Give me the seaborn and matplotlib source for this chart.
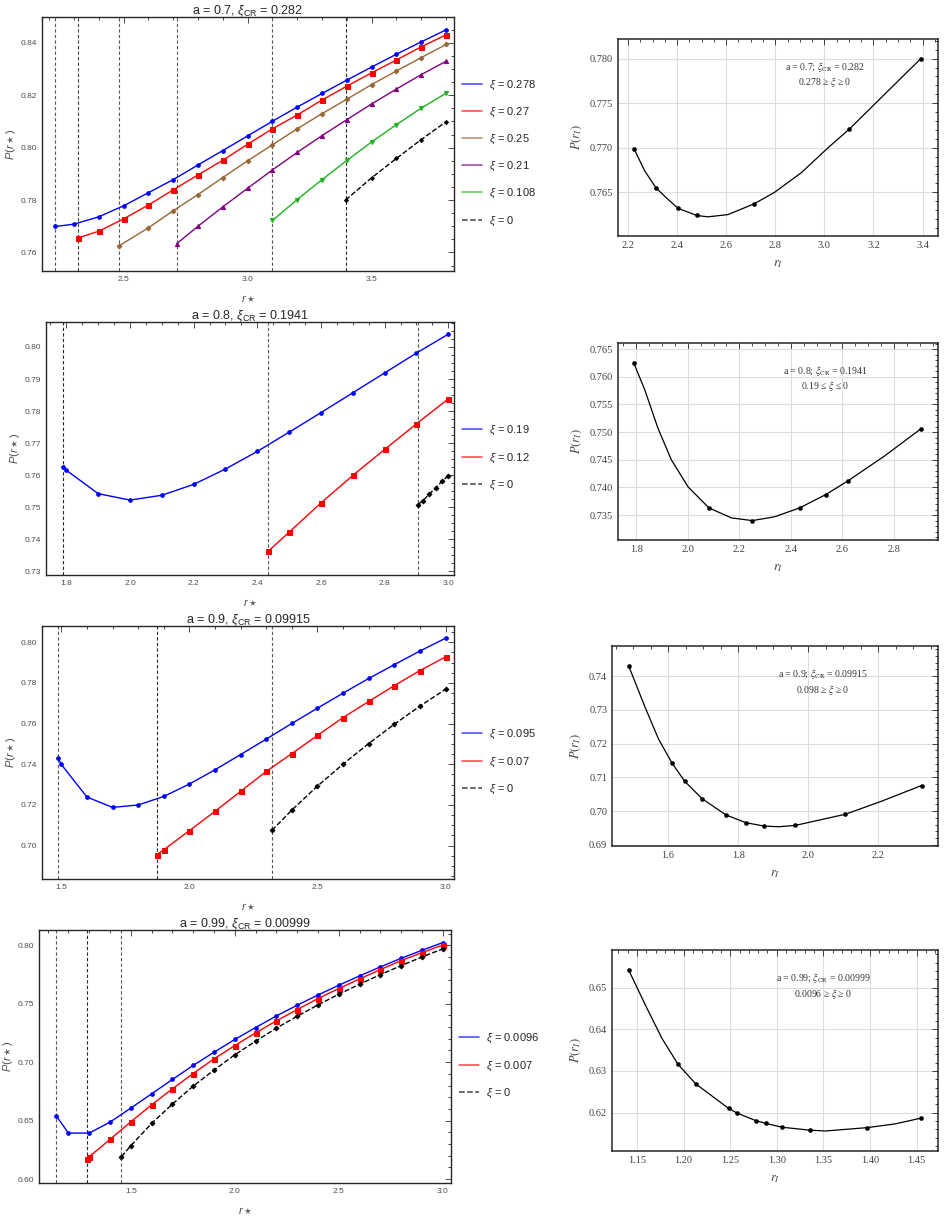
import matplotlib
matplotlib.use('Agg')
import matplotlib.pyplot as plt
from matplotlib.lines import Line2D
from matplotlib.ticker import MultipleLocator, FormatStrFormatter
import seaborn as sns

# ---------------- a = 0.7 ----------------
a07_b_x = [2.225, 2.3, 2.4, 2.5, 2.6, 2.7, 2.8, 2.9, 3.0, 3.1, 3.2, 3.3, 3.4, 3.5, 3.6, 3.7, 3.8]
a07_b_y = [0.7699, 0.7708, 0.7736, 0.7778, 0.7828, 0.7878, 0.7934, 0.7989, 0.8045, 0.8101,
           0.8155, 0.8207, 0.8258, 0.8308, 0.8357, 0.8404, 0.8450]
a07_r_x = [2.315, 2.4, 2.5, 2.6, 2.7, 2.8, 2.9, 3.0, 3.1, 3.2, 3.3, 3.4, 3.5, 3.6, 3.7, 3.8]
a07_r_y = [0.7655, 0.7681, 0.7728, 0.7781, 0.7839, 0.7896, 0.7952, 0.8013, 0.8072, 0.8125,
           0.8182, 0.8235, 0.8286, 0.8335, 0.8385, 0.8431]
a07_br_x = [2.48, 2.6, 2.7, 2.8, 2.9, 3.0, 3.1, 3.2, 3.3, 3.4, 3.5, 3.6, 3.7, 3.8]
a07_br_y = [0.7624, 0.7694, 0.7759, 0.7821, 0.7886, 0.7950, 0.8011, 0.8072, 0.8130, 0.8185,
            0.8241, 0.8293, 0.8344, 0.8394]
a07_pu_x = [2.715, 2.8, 2.9, 3.0, 3.1, 3.2, 3.3, 3.4, 3.5, 3.6, 3.7, 3.8]
a07_pu_y = [0.7634, 0.7700, 0.7774, 0.7845, 0.7915, 0.7982, 0.8046, 0.8107, 0.8167, 0.8224,
            0.8279, 0.8330]
a07_g_x = [3.1, 3.2, 3.3, 3.4, 3.5, 3.6, 3.7, 3.8]
a07_g_y = [0.7722, 0.7802, 0.7878, 0.7951, 0.8022, 0.8088, 0.8151, 0.8208]
a07_k_x = [3.395, 3.5, 3.6, 3.7, 3.8]
a07_k_y = [0.7800, 0.7885, 0.7959, 0.8031, 0.8099]
a07_vlines = [2.225, 2.315, 2.48, 2.715, 3.1, 3.395]
a07_xi = ['0.278', '0.27', '0.25', '0.21', '0.108', '0']

a07_rI_curve_x = [2.224, 2.268, 2.314, 2.363, 2.404, 2.48, 2.526, 2.607, 2.713, 2.797, 2.906,
                  3.015, 3.102, 3.205, 3.393]
a07_rI_curve_y = [0.7699, 0.7674, 0.7655, 0.7642, 0.7632, 0.7624, 0.76225, 0.7625, 0.7637,
                  0.7650, 0.7672, 0.7700, 0.7721, 0.7749, 0.7800]
a07_rI_x = [2.224, 2.314, 2.404, 2.48, 2.713, 3.102, 3.393]
a07_rI_y = [0.7699, 0.7655, 0.7632, 0.7624, 0.7637, 0.7721, 0.7800]

# ---------------- a = 0.8 ----------------
a08_b_x = [1.79, 1.8, 1.9, 2.0, 2.1, 2.2, 2.3, 2.4, 2.5, 2.6, 2.7, 2.8, 2.9, 3.0]
a08_b_y = [0.7626, 0.7615, 0.7542, 0.7522, 0.7537, 0.7571, 0.7619, 0.7674, 0.7734, 0.7795,
           0.7857, 0.7919, 0.7981, 0.8040]
a08_r_x = [2.434, 2.5, 2.6, 2.7, 2.8, 2.9, 3.0]
a08_r_y = [0.7362, 0.7422, 0.7513, 0.7599, 0.7680, 0.7760, 0.7838]
a08_k_x = [2.905, 2.92, 2.94, 2.96, 2.98, 3.0]
a08_k_y = [0.7508, 0.7520, 0.7540, 0.7560, 0.7580, 0.7598]
a08_vlines = [1.79, 2.434, 2.905]
a08_xi = ['0.19', '0.12', '0']

a08_rI_curve_x = [1.79, 1.8325, 1.884, 1.936, 2.001, 2.082, 2.169, 2.25, 2.337, 2.434, 2.535,
                  2.622, 2.764, 2.905]
a08_rI_curve_y = [0.7625, 0.7577, 0.7507, 0.7450, 0.7401, 0.7363, 0.7345, 0.7340, 0.7347,
                  0.7363, 0.7387, 0.7412, 0.7457, 0.7506]
a08_rI_x = [1.79, 2.082, 2.25, 2.434, 2.535, 2.622, 2.905]
a08_rI_y = [0.7625, 0.7363, 0.7340, 0.7363, 0.7387, 0.7412, 0.7506]

# ---------------- a = 0.9 ----------------
a09_b_x = [1.488, 1.5, 1.6, 1.7, 1.8, 1.9, 2.0, 2.1, 2.2, 2.3, 2.4, 2.5, 2.6, 2.7, 2.8, 2.9, 3.0]
a09_b_y = [0.7430, 0.7399, 0.7239, 0.7188, 0.7200, 0.7242, 0.7303, 0.7373, 0.7448, 0.7524,
           0.7601, 0.7676, 0.7750, 0.7822, 0.7890, 0.7957, 0.8020]
a09_r_x = [1.873, 1.9, 2.0, 2.1, 2.2, 2.3, 2.4, 2.5, 2.6, 2.7, 2.8, 2.9, 3.0]
a09_r_y = [0.6956, 0.6980, 0.7074, 0.7169, 0.7267, 0.7365, 0.7453, 0.7542, 0.7630, 0.7709,
           0.7787, 0.7861, 0.7928]
a09_k_x = [2.322, 2.4, 2.5, 2.6, 2.7, 2.8, 2.9, 3.0]
a09_k_y = [0.7075, 0.7175, 0.7293, 0.7401, 0.7502, 0.7597, 0.7686, 0.7769]
a09_vlines = [1.488, 1.873, 2.322]
a09_xi = ['0.095', '0.07', '0']

a09_rI_curve_x = [1.4876, 1.535, 1.573, 1.611, 1.647, 1.697, 1.765, 1.822, 1.874, 1.916, 1.963,
                  2.106, 2.210, 2.323]
a09_rI_curve_y = [0.7430, 0.7306, 0.7213, 0.7143, 0.7089, 0.7037, 0.6989, 0.6966, 0.6956,
                  0.6954, 0.6958, 0.6991, 0.7030, 0.7076]
a09_rI_x = [1.4876, 1.611, 1.647, 1.697, 1.765, 1.822, 1.874, 1.963, 2.106, 2.323]
a09_rI_y = [0.7430, 0.7143, 0.7089, 0.7037, 0.6989, 0.6966, 0.6956, 0.6958, 0.6991, 0.7076]

# ---------------- a = 0.99 ----------------
a099_b_x = [1.141, 1.2, 1.3, 1.4, 1.5, 1.6, 1.7, 1.8, 1.9, 2.0, 2.1, 2.2, 2.3, 2.4, 2.5, 2.6,
            2.7, 2.8, 2.9, 3.0]
a099_b_y = [0.6541, 0.6393, 0.6393, 0.6487, 0.6607, 0.6729, 0.6852, 0.6972, 0.7085, 0.7194,
            0.7296, 0.7396, 0.7487, 0.7575, 0.7658, 0.7738, 0.7815, 0.7889, 0.7957, 0.8023]
a099_r_x = [1.288, 1.3, 1.4, 1.5, 1.6, 1.7, 1.8, 1.9, 2.0, 2.1, 2.2, 2.3, 2.4, 2.5, 2.6, 2.7,
            2.8, 2.9, 3.0]
a099_r_y = [0.6174, 0.6191, 0.6339, 0.6490, 0.6635, 0.6772, 0.6903, 0.7028, 0.7142, 0.7251,
            0.7353, 0.7450, 0.7544, 0.7630, 0.7712, 0.7792, 0.7869, 0.7937, 0.8003]
a099_k_x = [1.455, 1.5, 1.6, 1.7, 1.8, 1.9, 2.0, 2.1, 2.2, 2.3, 2.4, 2.5, 2.6, 2.7, 2.8, 2.9, 3.0]
a099_k_y = [0.6191, 0.6285, 0.6476, 0.6641, 0.6795, 0.6932, 0.7063, 0.7179, 0.7291, 0.7393,
            0.7490, 0.7581, 0.7667, 0.7749, 0.7826, 0.7900, 0.7969]
a099_vlines = [1.141, 1.288, 1.455]
a099_xi = ['0.0096', '0.007', '0']

a099_rI_curve_x = [1.1411, 1.159, 1.1768, 1.194, 1.213, 1.2484, 1.2573, 1.2773, 1.2884, 1.3056,
                   1.3353, 1.352, 1.3968, 1.427, 1.455]
a099_rI_curve_y = [0.6542, 0.6458, 0.6378, 0.6316, 0.6269, 0.6210, 0.6199, 0.6181, 0.6174,
                   0.6165, 0.6158, 0.6156, 0.6164, 0.6173, 0.6187]
a099_rI_x = [1.1411, 1.194, 1.213, 1.2484, 1.2573, 1.2773, 1.2884, 1.3056, 1.3353, 1.3968, 1.455]
a099_rI_y = [0.6542, 0.6316, 0.6269, 0.6210, 0.6199, 0.6181, 0.6174, 0.6165, 0.6158, 0.6164, 0.6187]

# --------------------------------------------------
sns.set_style('white')
plt.rcParams['font.family'] = ['Liberation Sans', 'DejaVu Sans']
plt.rcParams['mathtext.fontset'] = 'custom'
plt.rcParams['mathtext.rm'] = 'Liberation Sans'
plt.rcParams['mathtext.it'] = 'Liberation Sans:italic'
plt.rcParams['mathtext.bf'] = 'Liberation Sans:bold'

W, H = 944, 1217
fig = plt.figure(figsize=(W / 100, H / 100), dpi=100)


def px_axes(l, t, r, b):
    return fig.add_axes([l / W, 1 - b / H, (r - l) / W, (b - t) / H])


def frame_ticks(ax, lw):
    ax.tick_params(which='both', direction='in', top=True, right=True, width=0.6)
    ax.tick_params(which='major', length=4)
    ax.tick_params(which='minor', length=2)
    for s in ax.spines.values():
        s.set_linewidth(lw)
        s.set_color('0.15')


BLUE, RED, BROWN, PURPLE, GREEN = '#0000ff', '#ff0000', '#996633', '#800080', '#1fb21f'


def left_panel(rect, title, series, vlines, vcols, xlim, ylim, xt, ym, xf, yf, xmin, ymin, leg_y):
    ax = px_axes(*rect)
    for xv, vc in zip(vlines, vcols):
        ax.axvline(xv, color=vc, ls=(0, (3, 2)), lw=0.8, zorder=1)
    handles, labels = [], []
    for xs, ys, col, mk, ms, lab, ls in series:
        sns.lineplot(x=xs, y=ys, ax=ax, color=col, marker=mk, markersize=ms,
                     markeredgecolor=col, linewidth=1.0, linestyle=ls,
                     estimator=None, sort=False, zorder=3)
        handles.append(Line2D([], [], color=col, lw=1.1, ls=ls, alpha=0.75))
        labels.append(r'$\xi$ = ' + lab)
    ax.set_xlim(*xlim)
    ax.set_ylim(*ylim)
    ax.xaxis.set_major_locator(MultipleLocator(xt))
    ax.yaxis.set_major_locator(MultipleLocator(ym))
    ax.xaxis.set_minor_locator(MultipleLocator(xmin))
    ax.yaxis.set_minor_locator(MultipleLocator(ymin))
    ax.xaxis.set_major_formatter(FormatStrFormatter(xf))
    ax.yaxis.set_major_formatter(FormatStrFormatter(yf))
    ax.tick_params(labelsize=6, colors='0.2', labelcolor='0.3')
    frame_ticks(ax, 1.0)
    ax.set_title(title, fontsize=9, pad=2, color='0.15')
    ax.set_xlabel(r'$r\star$', fontsize=8, labelpad=8, color='0.3')
    ax.set_ylabel(r'$P(r\star)$', fontsize=8, labelpad=2, color='0.3')
    fig.legend(handles, labels, loc='center left',
               bbox_to_anchor=((rect[2] + 8) / W, 1 - leg_y / H),
               frameon=False, fontsize=8, handlelength=1.8, labelspacing=1.25,
               handletextpad=0.6, borderpad=0, borderaxespad=0)
    if ax.get_legend() is not None:
        ax.get_legend().remove()
    return ax


def right_panel(rect, cx, cy, mx, my, xlim, ylim, xt, ym, xf, yf, xmin, ymin, note):
    ax = px_axes(*rect)
    sns.lineplot(x=cx, y=cy, ax=ax, color='black', linewidth=0.9, estimator=None,
                 sort=False, zorder=3)
    sns.scatterplot(x=mx, y=my, ax=ax, color='black', s=9, edgecolor='black',
                    linewidth=0.3, zorder=4)
    ax.set_xlim(*xlim)
    ax.set_ylim(*ylim)
    ax.xaxis.set_major_locator(MultipleLocator(xt))
    ax.yaxis.set_major_locator(MultipleLocator(ym))
    ax.xaxis.set_minor_locator(MultipleLocator(xmin))
    ax.yaxis.set_minor_locator(MultipleLocator(ymin))
    ax.xaxis.set_major_formatter(FormatStrFormatter(xf))
    ax.yaxis.set_major_formatter(FormatStrFormatter(yf))
    ax.grid(True, which='major', color='#dddddd', lw=0.8)
    ax.set_axisbelow(True)
    ax.tick_params(labelsize=7.5, labelfontfamily='Liberation Serif', labelcolor='0.25')
    frame_ticks(ax, 1.1)
    ax.set_xlabel(r'$r_I$', fontsize=9, math_fontfamily='stix', labelpad=6, color='0.25')
    ax.set_ylabel(r'$P(r_I)$', fontsize=9, math_fontfamily='stix', labelpad=4, color='0.25')
    ax.text(0.647, 0.82, note, transform=ax.transAxes, ha='center', va='center',
            fontsize=7, family='Liberation Serif', math_fontfamily='stix',
            linespacing=1.15, color='0.2')
    return ax


# ---- row 1: a = 0.7 ----
left_panel((42, 17, 454, 271), r'a = 0.7, $\xi_{\mathrm{CR}}$ = 0.282',
           [(a07_b_x, a07_b_y, BLUE, 'o', 2.6, a07_xi[0], '-'),
            (a07_r_x, a07_r_y, RED, 's', 3.6, a07_xi[1], '-'),
            (a07_br_x, a07_br_y, BROWN, 'D', 2.4, a07_xi[2], '-'),
            (a07_pu_x, a07_pu_y, PURPLE, '^', 3.0, a07_xi[3], '-'),
            (a07_g_x, a07_g_y, GREEN, 'v', 3.0, a07_xi[4], '-'),
            (a07_k_x, a07_k_y, 'black', 'D', 2.0, a07_xi[5], '--')],
           a07_vlines, ['0.35', '0.25', '0.35', '0.35', '0.35', '0.15'],
           (2.171, 3.832), (0.7529, 0.8499), 0.5, 0.02, '%.1f', '%.2f', 0.1, 0.005, 153)
right_panel((618, 39, 938, 236), a07_rI_curve_x, a07_rI_curve_y, a07_rI_x, a07_rI_y,
            (2.159, 3.463), (0.7601, 0.7822), 0.2, 0.005, '%.1f', '%.3f', 0.05, 0.001,
            r'a = 0.7; $\xi_{\mathrm{CR}}$ = 0.282' + '\n' + r'0.278 ≥ $\xi$ ≥ 0')

# ---- row 2: a = 0.8 ----
left_panel((46, 322, 454, 575), r'a = 0.8, $\xi_{\mathrm{CR}}$ = 0.1941',
           [(a08_b_x, a08_b_y, BLUE, 'o', 2.6, a08_xi[0], '-'),
            (a08_r_x, a08_r_y, RED, 's', 3.6, a08_xi[1], '-'),
            (a08_k_x, a08_k_y, 'black', 'D', 2.4, a08_xi[2], '--')],
           a08_vlines, ['0.15', '0.35', '0.35'],
           (1.736, 3.018), (0.7288, 0.8078), 0.2, 0.01, '%.1f', '%.2f', 0.05, 0.0025, 458)
right_panel((618, 343, 938, 540), a08_rI_curve_x, a08_rI_curve_y, a08_rI_x, a08_rI_y,
            (1.729, 2.971), (0.7305, 0.7661), 0.2, 0.005, '%.1f', '%.3f', 0.05, 0.001,
            r'a = 0.8; $\xi_{\mathrm{CR}}$ = 0.1941' + '\n' + r'0.19 ≤ $\xi$ ≤ 0')

# ---- row 3: a = 0.9 ----
left_panel((42, 626, 454, 879), r'a = 0.9, $\xi_{\mathrm{CR}}$ = 0.09915',
           [(a09_b_x, a09_b_y, BLUE, 'o', 2.6, a09_xi[0], '-'),
            (a09_r_x, a09_r_y, RED, 's', 3.6, a09_xi[1], '-'),
            (a09_k_x, a09_k_y, 'black', 'D', 2.4, a09_xi[2], '--')],
           a09_vlines, ['0.35', '0.15', '0.35'],
           (1.4245, 3.033), (0.6836, 0.808), 0.5, 0.02, '%.1f', '%.2f', 0.1, 0.005, 762)
right_panel((612, 646, 938, 846), a09_rI_curve_x, a09_rI_curve_y, a09_rI_x, a09_rI_y,
            (1.44, 2.37), (0.6897, 0.7489), 0.2, 0.01, '%.1f', '%.2f', 0.05, 0.002,
            r'a = 0.9; $\xi_{\mathrm{CR}}$ = 0.09915' + '\n' + r'0.098 ≥ $\xi$ ≥ 0')

# ---- row 4: a = 0.99 ----
left_panel((39, 930, 451, 1183), r'a = 0.99, $\xi_{\mathrm{CR}}$ = 0.00999',
           [(a099_b_x, a099_b_y, BLUE, 'o', 2.6, a099_xi[0], '-'),
            (a099_r_x, a099_r_y, RED, 's', 3.6, a099_xi[1], '-'),
            (a099_k_x, a099_k_y, 'black', 'D', 2.4, a099_xi[2], '--')],
           a099_vlines, ['0.35', '0.15', '0.35'],
           (1.0584, 3.04), (0.5966, 0.8131), 0.5, 0.05, '%.1f', '%.2f', 0.1, 0.01, 1066)
right_panel((612, 950, 938, 1151), a099_rI_curve_x, a099_rI_curve_y, a099_rI_x, a099_rI_y,
            (1.1232, 1.4729), (0.6108, 0.659), 0.05, 0.01, '%.2f', '%.2f', 0.01, 0.002,
            r'a = 0.99; $\xi_{\mathrm{CR}}$ = 0.00999' + '\n' + r'0.0096 ≥ $\xi$ ≥ 0')

fig.savefig('out.png', dpi=100)
